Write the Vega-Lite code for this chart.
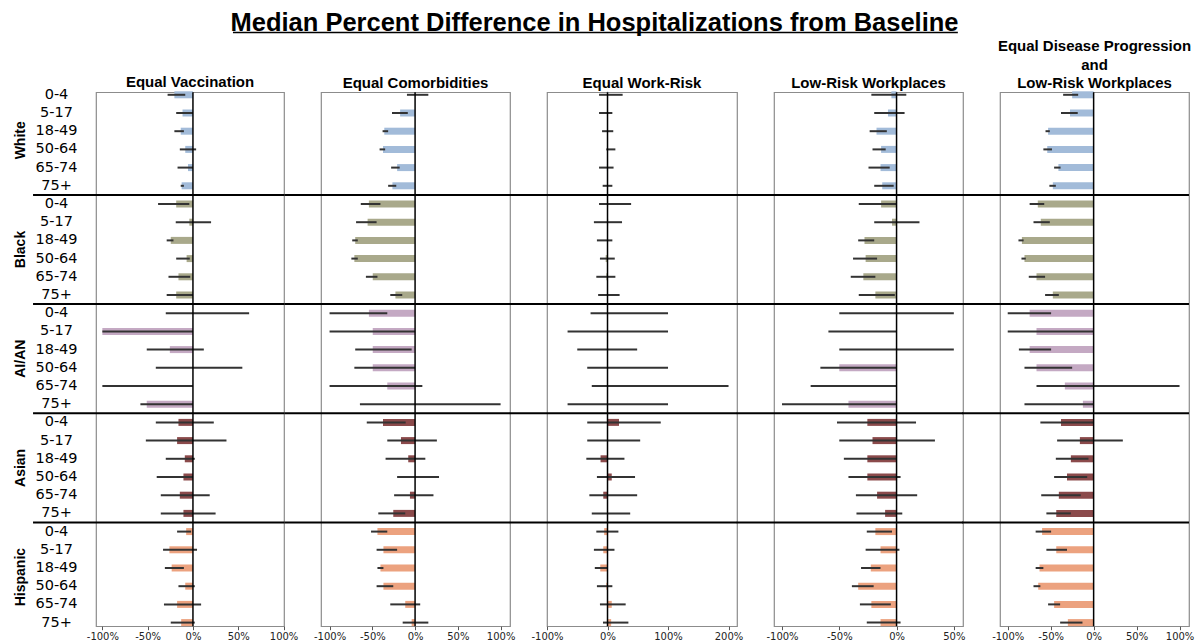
{
"$schema":"https://vega.github.io/schema/vega-lite/v6.json",
"background":"white",
"padding":{"left":12,"top":10.2,"right":5,"bottom":0},
"bounds":"flush",
"spacing":37,
"title":{"text":"Median Percent Difference in Hospitalizations from Baseline","font":"Liberation Sans","fontSize":25.5,"fontWeight":"bold","color":"black","anchor":"middle","frame":"bounds","baseline":"alphabetic","offset":-25.2,"dx":-9},
"config":{"view":{"stroke":"#8c8c8c","strokeWidth":1.2},"title":{"font":"Liberation Sans","fontSize":15,"fontWeight":"bold","color":"black","anchor":"middle","frame":"group","baseline":"alphabetic","offset":-0.1,"lineHeight":18.5}},
"datasets":{
"seps":[{"race":"Black"},{"race":"AI/AN"},{"race":"Asian"},{"race":"Hispanic"}],
"d":[
{"p":"V","race":"White","key":"White|0-4","m":-20.5,"lo":-28,"hi":-8.5},
{"p":"V","race":"White","key":"White|5-17","m":-11.5,"lo":-18.5,"hi":0},
{"p":"V","race":"White","key":"White|18-49","m":-13.5,"lo":-20.5,"hi":-10},
{"p":"V","race":"White","key":"White|50-64","m":-8.5,"lo":-14.5,"hi":3.5},
{"p":"V","race":"White","key":"White|65-74","m":-5.5,"lo":-17,"hi":0},
{"p":"V","race":"White","key":"White|75+","m":-12.5,"lo":-13.5,"hi":-10},
{"p":"V","race":"Black","key":"Black|0-4","m":-18.5,"lo":-38.5,"hi":-4},
{"p":"V","race":"Black","key":"Black|5-17","m":-4,"lo":-19,"hi":20},
{"p":"V","race":"Black","key":"Black|18-49","m":-24.5,"lo":-29,"hi":-21.5},
{"p":"V","race":"Black","key":"Black|50-64","m":-7,"lo":-18.5,"hi":-3.5},
{"p":"V","race":"Black","key":"Black|65-74","m":-16,"lo":-27,"hi":-3},
{"p":"V","race":"Black","key":"Black|75+","m":-18.5,"lo":-29,"hi":0},
{"p":"V","race":"AI/AN","key":"AI/AN|0-4","m":0,"lo":-30,"hi":62},
{"p":"V","race":"AI/AN","key":"AI/AN|5-17","m":-100,"lo":-100,"hi":0},
{"p":"V","race":"AI/AN","key":"AI/AN|18-49","m":-25.5,"lo":-51,"hi":12},
{"p":"V","race":"AI/AN","key":"AI/AN|50-64","m":0,"lo":-41,"hi":54.5},
{"p":"V","race":"AI/AN","key":"AI/AN|65-74","m":0,"lo":-100,"hi":0},
{"p":"V","race":"AI/AN","key":"AI/AN|75+","m":-51,"lo":-58,"hi":0},
{"p":"V","race":"Asian","key":"Asian|0-4","m":-16,"lo":-41,"hi":23},
{"p":"V","race":"Asian","key":"Asian|5-17","m":-17.5,"lo":-52,"hi":37},
{"p":"V","race":"Asian","key":"Asian|18-49","m":-9,"lo":-30,"hi":2},
{"p":"V","race":"Asian","key":"Asian|50-64","m":-10.5,"lo":-40,"hi":0},
{"p":"V","race":"Asian","key":"Asian|65-74","m":-14.5,"lo":-35.5,"hi":18.5},
{"p":"V","race":"Asian","key":"Asian|75+","m":-10.5,"lo":-35.5,"hi":25},
{"p":"V","race":"Hispanic","key":"Hispanic|0-4","m":-7.5,"lo":-17.5,"hi":-2},
{"p":"V","race":"Hispanic","key":"Hispanic|5-17","m":-26,"lo":-33,"hi":4.5},
{"p":"V","race":"Hispanic","key":"Hispanic|18-49","m":-23.5,"lo":-31,"hi":-10},
{"p":"V","race":"Hispanic","key":"Hispanic|50-64","m":-8.5,"lo":-16,"hi":2},
{"p":"V","race":"Hispanic","key":"Hispanic|65-74","m":-17.5,"lo":-32,"hi":9},
{"p":"V","race":"Hispanic","key":"Hispanic|75+","m":-13,"lo":-24.5,"hi":2},
{"p":"C","race":"White","key":"White|0-4","m":0,"lo":-9.5,"hi":15.5},
{"p":"C","race":"White","key":"White|5-17","m":-17.5,"lo":-27,"hi":-8.5},
{"p":"C","race":"White","key":"White|18-49","m":-36,"lo":-38,"hi":-31.5},
{"p":"C","race":"White","key":"White|50-64","m":-37.5,"lo":-41.5,"hi":-35},
{"p":"C","race":"White","key":"White|65-74","m":-21,"lo":-28,"hi":-18},
{"p":"C","race":"White","key":"White|75+","m":-26.5,"lo":-31.5,"hi":-22},
{"p":"C","race":"Black","key":"Black|0-4","m":-54,"lo":-63.5,"hi":-40.5},
{"p":"C","race":"Black","key":"Black|5-17","m":-55.5,"lo":-69,"hi":-45},
{"p":"C","race":"Black","key":"Black|18-49","m":-70,"lo":-73.5,"hi":-67},
{"p":"C","race":"Black","key":"Black|50-64","m":-71,"lo":-74.5,"hi":-67},
{"p":"C","race":"Black","key":"Black|65-74","m":-49.5,"lo":-57.5,"hi":-44},
{"p":"C","race":"Black","key":"Black|75+","m":-23,"lo":-29,"hi":-15},
{"p":"C","race":"AI/AN","key":"AI/AN|0-4","m":-54,"lo":-100,"hi":-32.5},
{"p":"C","race":"AI/AN","key":"AI/AN|5-17","m":-49.5,"lo":-100,"hi":0},
{"p":"C","race":"AI/AN","key":"AI/AN|18-49","m":-49.5,"lo":-70,"hi":-4},
{"p":"C","race":"AI/AN","key":"AI/AN|50-64","m":-49.5,"lo":-71,"hi":0},
{"p":"C","race":"AI/AN","key":"AI/AN|65-74","m":-32.5,"lo":-100,"hi":8.5},
{"p":"C","race":"AI/AN","key":"AI/AN|75+","m":0,"lo":-64.5,"hi":100},
{"p":"C","race":"Asian","key":"Asian|0-4","m":-37.5,"lo":-56.5,"hi":-11},
{"p":"C","race":"Asian","key":"Asian|5-17","m":-16.5,"lo":-32.5,"hi":25.5},
{"p":"C","race":"Asian","key":"Asian|18-49","m":-8,"lo":-34.5,"hi":12},
{"p":"C","race":"Asian","key":"Asian|50-64","m":0,"lo":-21,"hi":28},
{"p":"C","race":"Asian","key":"Asian|65-74","m":-6,"lo":-24.5,"hi":21.5},
{"p":"C","race":"Asian","key":"Asian|75+","m":-25.5,"lo":-43,"hi":-11.5},
{"p":"C","race":"Hispanic","key":"Hispanic|0-4","m":-44,"lo":-51.5,"hi":-32.5},
{"p":"C","race":"Hispanic","key":"Hispanic|5-17","m":-37,"lo":-45,"hi":-21},
{"p":"C","race":"Hispanic","key":"Hispanic|18-49","m":-40.5,"lo":-44,"hi":-37},
{"p":"C","race":"Hispanic","key":"Hispanic|50-64","m":-37,"lo":-45,"hi":-25.5},
{"p":"C","race":"Hispanic","key":"Hispanic|65-74","m":-11.5,"lo":-29,"hi":6},
{"p":"C","race":"Hispanic","key":"Hispanic|75+","m":-4,"lo":-14.5,"hi":15.5},
{"p":"W","race":"White","key":"White|0-4","m":1,"lo":-14,"hi":25},
{"p":"W","race":"White","key":"White|5-17","m":0,"lo":-14,"hi":8},
{"p":"W","race":"White","key":"White|18-49","m":0,"lo":-9,"hi":9.5},
{"p":"W","race":"White","key":"White|50-64","m":0,"lo":-2,"hi":13},
{"p":"W","race":"White","key":"White|65-74","m":-1,"lo":-14,"hi":10},
{"p":"W","race":"White","key":"White|75+","m":0,"lo":-8,"hi":8},
{"p":"W","race":"Black","key":"Black|0-4","m":1,"lo":-14,"hi":39},
{"p":"W","race":"Black","key":"Black|5-17","m":1,"lo":-22.5,"hi":24},
{"p":"W","race":"Black","key":"Black|18-49","m":0,"lo":-17.5,"hi":8},
{"p":"W","race":"Black","key":"Black|50-64","m":-3,"lo":-12.5,"hi":12},
{"p":"W","race":"Black","key":"Black|65-74","m":-2,"lo":-18.5,"hi":13},
{"p":"W","race":"Black","key":"Black|75+","m":0,"lo":-15.5,"hi":20},
{"p":"W","race":"AI/AN","key":"AI/AN|0-4","m":0,"lo":-28,"hi":100},
{"p":"W","race":"AI/AN","key":"AI/AN|5-17","m":0,"lo":-66,"hi":100},
{"p":"W","race":"AI/AN","key":"AI/AN|18-49","m":0,"lo":-50,"hi":49},
{"p":"W","race":"AI/AN","key":"AI/AN|50-64","m":0,"lo":-33.5,"hi":100},
{"p":"W","race":"AI/AN","key":"AI/AN|65-74","m":0,"lo":-26,"hi":200},
{"p":"W","race":"AI/AN","key":"AI/AN|75+","m":0,"lo":-66,"hi":100},
{"p":"W","race":"Asian","key":"Asian|0-4","m":19,"lo":-33.5,"hi":88},
{"p":"W","race":"Asian","key":"Asian|5-17","m":0,"lo":-33.5,"hi":54},
{"p":"W","race":"Asian","key":"Asian|18-49","m":-11.5,"lo":-35,"hi":28},
{"p":"W","race":"Asian","key":"Asian|50-64","m":7,"lo":-17.5,"hi":45.5},
{"p":"W","race":"Asian","key":"Asian|65-74","m":-7,"lo":-30,"hi":49},
{"p":"W","race":"Asian","key":"Asian|75+","m":0,"lo":-26,"hi":37.5},
{"p":"W","race":"Hispanic","key":"Hispanic|0-4","m":-5.5,"lo":-18.5,"hi":18},
{"p":"W","race":"Hispanic","key":"Hispanic|5-17","m":-7,"lo":-22.5,"hi":11.5},
{"p":"W","race":"Hispanic","key":"Hispanic|18-49","m":-12,"lo":-21,"hi":0},
{"p":"W","race":"Hispanic","key":"Hispanic|50-64","m":-2,"lo":-17.5,"hi":8},
{"p":"W","race":"Hispanic","key":"Hispanic|65-74","m":7,"lo":-12.5,"hi":30},
{"p":"W","race":"Hispanic","key":"Hispanic|75+","m":6,"lo":-7.5,"hi":34.5},
{"p":"L","race":"White","key":"White|0-4","m":-4.5,"lo":-22,"hi":8.5},
{"p":"L","race":"White","key":"White|5-17","m":-7.5,"lo":-19.5,"hi":7},
{"p":"L","race":"White","key":"White|18-49","m":-17.5,"lo":-23.5,"hi":-8.5},
{"p":"L","race":"White","key":"White|50-64","m":-13.5,"lo":-21,"hi":-9.5},
{"p":"L","race":"White","key":"White|65-74","m":-14,"lo":-24.5,"hi":-6},
{"p":"L","race":"White","key":"White|75+","m":-12.5,"lo":-19.5,"hi":-2.5},
{"p":"L","race":"Black","key":"Black|0-4","m":-13.5,"lo":-33,"hi":0},
{"p":"L","race":"Black","key":"Black|5-17","m":-4,"lo":-19.5,"hi":20},
{"p":"L","race":"Black","key":"Black|18-49","m":-28,"lo":-33.5,"hi":-19.5},
{"p":"L","race":"Black","key":"Black|50-64","m":-27,"lo":-38,"hi":-17},
{"p":"L","race":"Black","key":"Black|65-74","m":-29,"lo":-40,"hi":-18.5},
{"p":"L","race":"Black","key":"Black|75+","m":-18.5,"lo":-33,"hi":-1.5},
{"p":"L","race":"AI/AN","key":"AI/AN|0-4","m":0,"lo":-50,"hi":50},
{"p":"L","race":"AI/AN","key":"AI/AN|5-17","m":0,"lo":-59.5,"hi":0},
{"p":"L","race":"AI/AN","key":"AI/AN|18-49","m":0,"lo":-50,"hi":50},
{"p":"L","race":"AI/AN","key":"AI/AN|50-64","m":-50,"lo":-66.5,"hi":0},
{"p":"L","race":"AI/AN","key":"AI/AN|65-74","m":0,"lo":-75,"hi":0},
{"p":"L","race":"AI/AN","key":"AI/AN|75+","m":-42,"lo":-100,"hi":0},
{"p":"L","race":"Asian","key":"Asian|0-4","m":-25.5,"lo":-52,"hi":17},
{"p":"L","race":"Asian","key":"Asian|5-17","m":-21,"lo":-50,"hi":33.5},
{"p":"L","race":"Asian","key":"Asian|18-49","m":-25.5,"lo":-46,"hi":0},
{"p":"L","race":"Asian","key":"Asian|50-64","m":-25.5,"lo":-42,"hi":3.5},
{"p":"L","race":"Asian","key":"Asian|65-74","m":-17,"lo":-35.5,"hi":18},
{"p":"L","race":"Asian","key":"Asian|75+","m":-10,"lo":-35,"hi":5},
{"p":"L","race":"Hispanic","key":"Hispanic|0-4","m":-18.5,"lo":-26,"hi":-4},
{"p":"L","race":"Hispanic","key":"Hispanic|5-17","m":-14,"lo":-27,"hi":2.5},
{"p":"L","race":"Hispanic","key":"Hispanic|18-49","m":-22.5,"lo":-31,"hi":-14},
{"p":"L","race":"Hispanic","key":"Hispanic|50-64","m":-33.5,"lo":-39,"hi":-20},
{"p":"L","race":"Hispanic","key":"Hispanic|65-74","m":-22,"lo":-32,"hi":-5},
{"p":"L","race":"Hispanic","key":"Hispanic|75+","m":-14,"lo":-26,"hi":3.5},
{"p":"D","race":"White","key":"White|0-4","m":-25,"lo":-35.5,"hi":-18},
{"p":"D","race":"White","key":"White|5-17","m":-27.5,"lo":-38,"hi":-18.5},
{"p":"D","race":"White","key":"White|18-49","m":-53,"lo":-56,"hi":-51},
{"p":"D","race":"White","key":"White|50-64","m":-54,"lo":-58.5,"hi":-48.5},
{"p":"D","race":"White","key":"White|65-74","m":-41,"lo":-46,"hi":-38.5},
{"p":"D","race":"White","key":"White|75+","m":-47.5,"lo":-51.5,"hi":-44},
{"p":"D","race":"Black","key":"Black|0-4","m":-65,"lo":-74.5,"hi":-57.5},
{"p":"D","race":"Black","key":"Black|5-17","m":-61.5,"lo":-70,"hi":-51},
{"p":"D","race":"Black","key":"Black|18-49","m":-83.5,"lo":-87.5,"hi":-81.5},
{"p":"D","race":"Black","key":"Black|50-64","m":-80.5,"lo":-84,"hi":-79},
{"p":"D","race":"Black","key":"Black|65-74","m":-66.5,"lo":-75.5,"hi":-56.5},
{"p":"D","race":"Black","key":"Black|75+","m":-47.5,"lo":-56.5,"hi":-40.5},
{"p":"D","race":"AI/AN","key":"AI/AN|0-4","m":-74.5,"lo":-100,"hi":-49.5},
{"p":"D","race":"AI/AN","key":"AI/AN|5-17","m":-66.5,"lo":-100,"hi":0},
{"p":"D","race":"AI/AN","key":"AI/AN|18-49","m":-74.5,"lo":-87,"hi":-49.5},
{"p":"D","race":"AI/AN","key":"AI/AN|50-64","m":-66.5,"lo":-80.5,"hi":-25},
{"p":"D","race":"AI/AN","key":"AI/AN|65-74","m":-33.5,"lo":-66.5,"hi":100},
{"p":"D","race":"AI/AN","key":"AI/AN|75+","m":-12.5,"lo":-80.5,"hi":0},
{"p":"D","race":"Asian","key":"Asian|0-4","m":-38,"lo":-62,"hi":0},
{"p":"D","race":"Asian","key":"Asian|5-17","m":-16,"lo":-42.5,"hi":34},
{"p":"D","race":"Asian","key":"Asian|18-49","m":-26.5,"lo":-44,"hi":-6},
{"p":"D","race":"Asian","key":"Asian|50-64","m":-31,"lo":-46,"hi":-7.5},
{"p":"D","race":"Asian","key":"Asian|65-74","m":-40.5,"lo":-61,"hi":-15},
{"p":"D","race":"Asian","key":"Asian|75+","m":-43.5,"lo":-55,"hi":-26.5},
{"p":"D","race":"Hispanic","key":"Hispanic|0-4","m":-60,"lo":-67.5,"hi":-49.5},
{"p":"D","race":"Hispanic","key":"Hispanic|5-17","m":-43.5,"lo":-55,"hi":-31},
{"p":"D","race":"Hispanic","key":"Hispanic|18-49","m":-63,"lo":-67.5,"hi":-58.5},
{"p":"D","race":"Hispanic","key":"Hispanic|50-64","m":-64.5,"lo":-70,"hi":-62},
{"p":"D","race":"Hispanic","key":"Hispanic|65-74","m":-46,"lo":-53,"hi":-39},
{"p":"D","race":"Hispanic","key":"Hispanic|75+","m":-30,"lo":-39,"hi":-13}
]},
"hconcat":[
{"width":188,"height":534,"title":{"text":"Equal Vaccination","offset":-4.1},
"layer":[
{"layer":[
{"data":{"name":"d"},"transform":[{"filter":"datum.p==='V'"}],"mark":{"type":"bar","size":7,"orient":"horizontal"},
"encoding":{"y":{"field":"key","type":"nominal","sort":null,"scale":{"domain":["White|0-4","White|5-17","White|18-49","White|50-64","White|65-74","White|75+","Black|0-4","Black|5-17","Black|18-49","Black|50-64","Black|65-74","Black|75+","AI/AN|0-4","AI/AN|5-17","AI/AN|18-49","AI/AN|50-64","AI/AN|65-74","AI/AN|75+","Asian|0-4","Asian|5-17","Asian|18-49","Asian|50-64","Asian|65-74","Asian|75+","Hispanic|0-4","Hispanic|5-17","Hispanic|18-49","Hispanic|50-64","Hispanic|65-74","Hispanic|75+"],"range":[-6.5,539.5],"paddingInner":0,"paddingOuter":0},
"axis":{"orient":"left","ticks":false,"tickSize":0,"domain":false,"grid":false,"labelAlign":"center","labelBaseline":"middle","labelPadding":40,"labelFont":"DejaVu Sans","labelFontSize":14.5,"labelColor":"black","title":null,"labelExpr":"split(datum.label,'|')[1]"}},
"x":{"field":"m","type":"quantitative","scale":{"domain":[-107,100.5],"nice":false,"zero":false},"axis":{"values":[-100,-50,0,50,100],"labelExpr":"datum.value + '%'","domain":false,"grid":false,"tickSize":3.5,"tickColor":"#555","labelFont":"DejaVu Sans","labelFontSize":10,"labelColor":"#222","labelPadding":2,"labelFlush":false,"labelOverlap":false,"title":null}},
"color":{"field":"race","type":"nominal","scale":{"domain":["White","Black","AI/AN","Asian","Hispanic"],"range":["#a2bbd9","#a9a98b","#c4a9c3","#8b4a4b","#eca27f"]},"legend":null}}},
{"data":{"name":"d"},"transform":[{"filter":"datum.p==='V'"}],"mark":{"type":"rule","color":"#333333","strokeWidth":2},
"encoding":{"y":{"field":"key","type":"nominal","sort":null},"x":{"field":"lo","type":"quantitative"},"x2":{"field":"hi"}}},
{"data":{"values":[{}]},"mark":{"type":"rule","color":"black","strokeWidth":1.5},"encoding":{"x":{"datum":0}}}
]},
{"layer":[
{"data":{"name":"seps"},"mark":{"type":"rule","color":"black","strokeWidth":2},
"encoding":{"y":{"field":"race","type":"nominal","bandPosition":0,"scale":{"domain":["White","Black","AI/AN","Asian","Hispanic"],"range":[-6.5,539.5],"paddingInner":0,"paddingOuter":0},
"axis":{"orient":"left","offset":68.8,"ticks":false,"tickSize":0,"domain":false,"grid":false,"labelAngle":-90,"labelAlign":"center","labelBaseline":"bottom","labelPadding":0,"labelFont":"Liberation Sans","labelFontWeight":"bold","labelFontSize":14,"labelColor":"black","title":null}},
"x":{"datum":-176.5},"x2":{"datum":100.5}}}
]}
],
"resolve":{"scale":{"y":"independent"},"axis":{"y":"independent"}}},
{"width":189,"height":534,"title":"Equal Comorbidities",
"layer":[
{"layer":[
{"data":{"name":"d"},"transform":[{"filter":"datum.p==='C'"}],"mark":{"type":"bar","size":7,"orient":"horizontal"},
"encoding":{"y":{"field":"key","type":"nominal","sort":null,"scale":{"domain":["White|0-4","White|5-17","White|18-49","White|50-64","White|65-74","White|75+","Black|0-4","Black|5-17","Black|18-49","Black|50-64","Black|65-74","Black|75+","AI/AN|0-4","AI/AN|5-17","AI/AN|18-49","AI/AN|50-64","AI/AN|65-74","AI/AN|75+","Asian|0-4","Asian|5-17","Asian|18-49","Asian|50-64","Asian|65-74","Asian|75+","Hispanic|0-4","Hispanic|5-17","Hispanic|18-49","Hispanic|50-64","Hispanic|65-74","Hispanic|75+"],"range":[-6.5,539.5],"paddingInner":0,"paddingOuter":0},"axis":null},
"x":{"field":"m","type":"quantitative","scale":{"domain":[-110,111],"nice":false,"zero":false},"axis":{"values":[-100,-50,0,50,100],"labelExpr":"datum.value + '%'","domain":false,"grid":false,"tickSize":3.5,"tickColor":"#555","labelFont":"DejaVu Sans","labelFontSize":10,"labelColor":"#222","labelPadding":2,"labelFlush":false,"labelOverlap":false,"title":null}},
"color":{"field":"race","type":"nominal","scale":{"domain":["White","Black","AI/AN","Asian","Hispanic"],"range":["#a2bbd9","#a9a98b","#c4a9c3","#8b4a4b","#eca27f"]},"legend":null}}},
{"data":{"name":"d"},"transform":[{"filter":"datum.p==='C'"}],"mark":{"type":"rule","color":"#333333","strokeWidth":2},
"encoding":{"y":{"field":"key","type":"nominal","sort":null},"x":{"field":"lo","type":"quantitative"},"x2":{"field":"hi"}}},
{"data":{"values":[{}]},"mark":{"type":"rule","color":"black","strokeWidth":1.5},"encoding":{"x":{"datum":0}}}
]},
{"layer":[
{"data":{"name":"seps"},"mark":{"type":"rule","color":"black","strokeWidth":2},
"encoding":{"y":{"field":"race","type":"nominal","bandPosition":0,"scale":{"domain":["White","Black","AI/AN","Asian","Hispanic"],"range":[-6.5,539.5],"paddingInner":0,"paddingOuter":0},"axis":null},
"x":{"datum":-153},"x2":{"datum":111}}}
]}
],
"resolve":{"scale":{"y":"independent"},"axis":{"y":"independent"}}},
{"width":190,"height":534,"title":{"text":"Equal Work-Risk","offset":-59.7},
"layer":[
{"layer":[
{"data":{"name":"d"},"transform":[{"filter":"datum.p==='W'"}],"mark":{"type":"bar","size":7,"orient":"horizontal"},
"encoding":{"y":{"field":"key","type":"nominal","sort":null,"scale":{"domain":["White|0-4","White|5-17","White|18-49","White|50-64","White|65-74","White|75+","Black|0-4","Black|5-17","Black|18-49","Black|50-64","Black|65-74","Black|75+","AI/AN|0-4","AI/AN|5-17","AI/AN|18-49","AI/AN|50-64","AI/AN|65-74","AI/AN|75+","Asian|0-4","Asian|5-17","Asian|18-49","Asian|50-64","Asian|65-74","Asian|75+","Hispanic|0-4","Hispanic|5-17","Hispanic|18-49","Hispanic|50-64","Hispanic|65-74","Hispanic|75+"],"range":[-6.5,539.5],"paddingInner":0,"paddingOuter":0},"axis":null},
"x":{"field":"m","type":"quantitative","scale":{"domain":[-100,214],"nice":false,"zero":false},"axis":{"values":[-100,-50,0,50,100,150,200],"labelExpr":"datum.value + '%'","domain":false,"grid":false,"tickSize":3.5,"tickColor":"#555","labelFont":"DejaVu Sans","labelFontSize":10,"labelColor":"#222","labelPadding":2,"labelFlush":false,"labelOverlap":false,"title":null}},
"color":{"field":"race","type":"nominal","scale":{"domain":["White","Black","AI/AN","Asian","Hispanic"],"range":["#a2bbd9","#a9a98b","#c4a9c3","#8b4a4b","#eca27f"]},"legend":null}}},
{"data":{"name":"d"},"transform":[{"filter":"datum.p==='W'"}],"mark":{"type":"rule","color":"#333333","strokeWidth":2},
"encoding":{"y":{"field":"key","type":"nominal","sort":null},"x":{"field":"lo","type":"quantitative"},"x2":{"field":"hi"}}},
{"data":{"values":[{}]},"mark":{"type":"rule","color":"black","strokeWidth":1.5},"encoding":{"x":{"datum":0}}}
]},
{"layer":[
{"data":{"name":"seps"},"mark":{"type":"rule","color":"black","strokeWidth":2},
"encoding":{"y":{"field":"race","type":"nominal","bandPosition":0,"scale":{"domain":["White","Black","AI/AN","Asian","Hispanic"],"range":[-6.5,539.5],"paddingInner":0,"paddingOuter":0},"axis":null},
"x":{"datum":-161.5},"x2":{"datum":214}}},
{"data":{"values":[{"race":"White"}]},"mark":{"type":"rule","color":"black","strokeWidth":1.5},
"encoding":{"y":{"field":"race","type":"nominal","bandPosition":-0.4872},"x":{"datum":-619},"x2":{"datum":579}}}
]}
],
"resolve":{"scale":{"y":"independent"},"axis":{"y":"independent"}}},
{"width":189,"height":534,"title":"Low-Risk Workplaces",
"layer":[
{"layer":[
{"data":{"name":"d"},"transform":[{"filter":"datum.p==='L'"}],"mark":{"type":"bar","size":7,"orient":"horizontal"},
"encoding":{"y":{"field":"key","type":"nominal","sort":null,"scale":{"domain":["White|0-4","White|5-17","White|18-49","White|50-64","White|65-74","White|75+","Black|0-4","Black|5-17","Black|18-49","Black|50-64","Black|65-74","Black|75+","AI/AN|0-4","AI/AN|5-17","AI/AN|18-49","AI/AN|50-64","AI/AN|65-74","AI/AN|75+","Asian|0-4","Asian|5-17","Asian|18-49","Asian|50-64","Asian|65-74","Asian|75+","Hispanic|0-4","Hispanic|5-17","Hispanic|18-49","Hispanic|50-64","Hispanic|65-74","Hispanic|75+"],"range":[-6.5,539.5],"paddingInner":0,"paddingOuter":0},"axis":null},
"x":{"field":"m","type":"quantitative","scale":{"domain":[-107,58],"nice":false,"zero":false},"axis":{"values":[-100,-50,0,50],"labelExpr":"datum.value + '%'","domain":false,"grid":false,"tickSize":3.5,"tickColor":"#555","labelFont":"DejaVu Sans","labelFontSize":10,"labelColor":"#222","labelPadding":2,"labelFlush":false,"labelOverlap":false,"title":null}},
"color":{"field":"race","type":"nominal","scale":{"domain":["White","Black","AI/AN","Asian","Hispanic"],"range":["#a2bbd9","#a9a98b","#c4a9c3","#8b4a4b","#eca27f"]},"legend":null}}},
{"data":{"name":"d"},"transform":[{"filter":"datum.p==='L'"}],"mark":{"type":"rule","color":"#333333","strokeWidth":2},
"encoding":{"y":{"field":"key","type":"nominal","sort":null},"x":{"field":"lo","type":"quantitative"},"x2":{"field":"hi"}}},
{"data":{"values":[{}]},"mark":{"type":"rule","color":"black","strokeWidth":1.5},"encoding":{"x":{"datum":0}}}
]},
{"layer":[
{"data":{"name":"seps"},"mark":{"type":"rule","color":"black","strokeWidth":2},
"encoding":{"y":{"field":"race","type":"nominal","bandPosition":0,"scale":{"domain":["White","Black","AI/AN","Asian","Hispanic"],"range":[-6.5,539.5],"paddingInner":0,"paddingOuter":0},"axis":null},
"x":{"datum":-139.5},"x2":{"datum":58}}}
]}
],
"resolve":{"scale":{"y":"independent"},"axis":{"y":"independent"}}},
{"width":189,"height":534,"title":{"text":["Equal  Disease Progression","and","Low-Risk Workplaces"]},
"layer":[
{"layer":[
{"data":{"name":"d"},"transform":[{"filter":"datum.p==='D'"}],"mark":{"type":"bar","size":7,"orient":"horizontal"},
"encoding":{"y":{"field":"key","type":"nominal","sort":null,"scale":{"domain":["White|0-4","White|5-17","White|18-49","White|50-64","White|65-74","White|75+","Black|0-4","Black|5-17","Black|18-49","Black|50-64","Black|65-74","Black|75+","AI/AN|0-4","AI/AN|5-17","AI/AN|18-49","AI/AN|50-64","AI/AN|65-74","AI/AN|75+","Asian|0-4","Asian|5-17","Asian|18-49","Asian|50-64","Asian|65-74","Asian|75+","Hispanic|0-4","Hispanic|5-17","Hispanic|18-49","Hispanic|50-64","Hispanic|65-74","Hispanic|75+"],"range":[-6.5,539.5],"paddingInner":0,"paddingOuter":0},"axis":null},
"x":{"field":"m","type":"quantitative","scale":{"domain":[-109,111],"nice":false,"zero":false},"axis":{"values":[-100,-50,0,50,100],"labelExpr":"datum.value + '%'","domain":false,"grid":false,"tickSize":3.5,"tickColor":"#555","labelFont":"DejaVu Sans","labelFontSize":10,"labelColor":"#222","labelPadding":2,"labelFlush":false,"labelOverlap":false,"title":null}},
"color":{"field":"race","type":"nominal","scale":{"domain":["White","Black","AI/AN","Asian","Hispanic"],"range":["#a2bbd9","#a9a98b","#c4a9c3","#8b4a4b","#eca27f"]},"legend":null}}},
{"data":{"name":"d"},"transform":[{"filter":"datum.p==='D'"}],"mark":{"type":"rule","color":"#333333","strokeWidth":2},
"encoding":{"y":{"field":"key","type":"nominal","sort":null},"x":{"field":"lo","type":"quantitative"},"x2":{"field":"hi"}}},
{"data":{"values":[{}]},"mark":{"type":"rule","color":"black","strokeWidth":1.5},"encoding":{"x":{"datum":0}}}
]},
{"layer":[
{"data":{"name":"seps"},"mark":{"type":"rule","color":"black","strokeWidth":2},
"encoding":{"y":{"field":"race","type":"nominal","bandPosition":0,"scale":{"domain":["White","Black","AI/AN","Asian","Hispanic"],"range":[-6.5,539.5],"paddingInner":0,"paddingOuter":0},"axis":null},
"x":{"datum":-153},"x2":{"datum":111}}}
]}
],
"resolve":{"scale":{"y":"independent"},"axis":{"y":"independent"}}}
]
}
